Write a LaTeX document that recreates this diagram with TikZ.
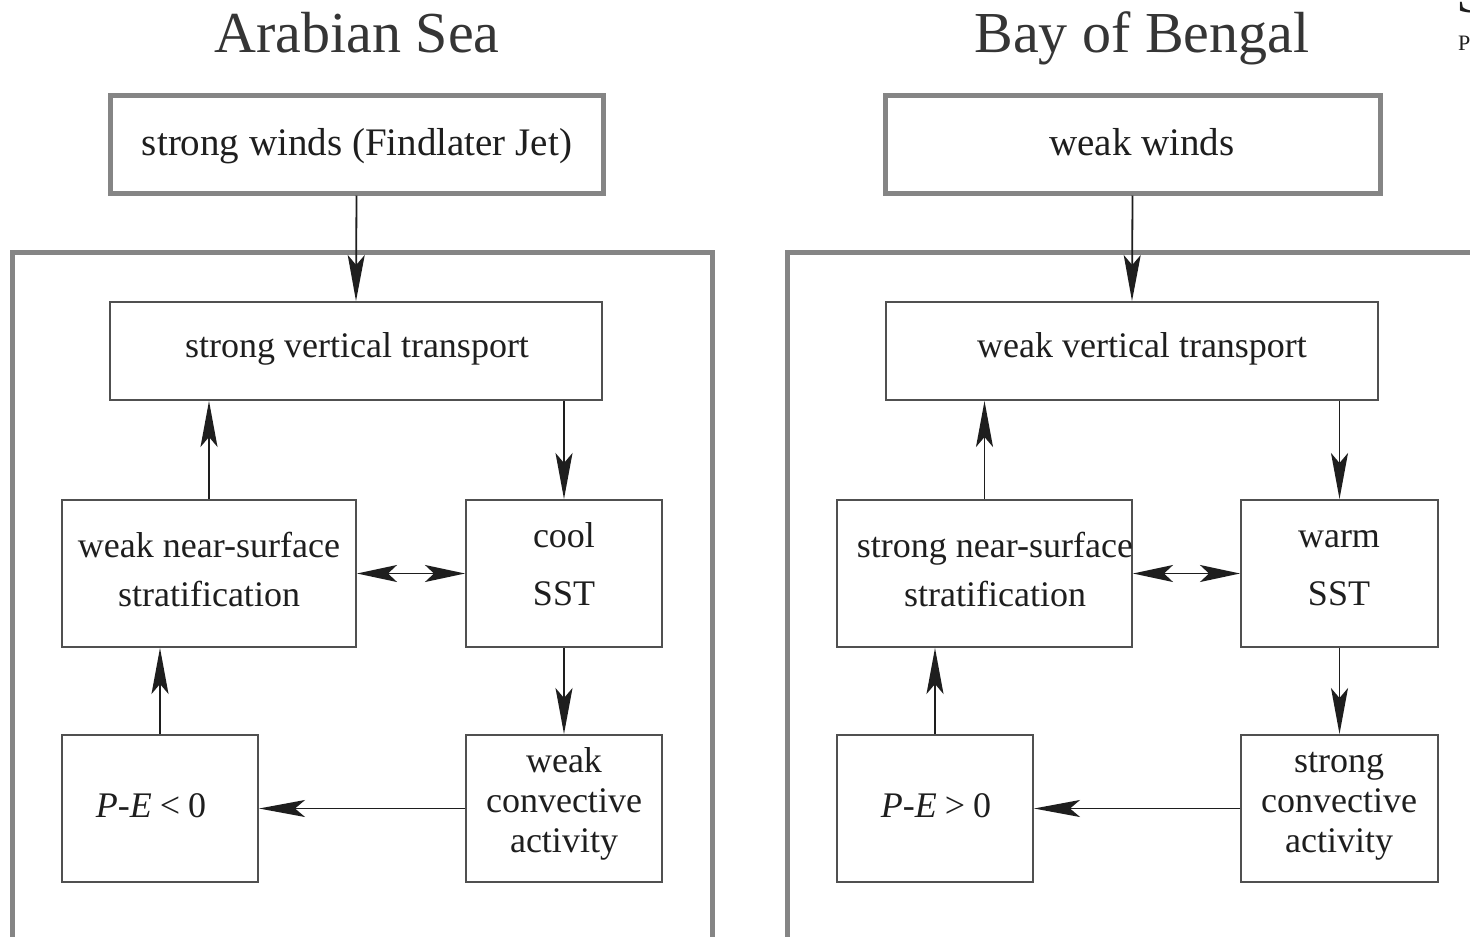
\documentclass[tikz,border=0pt]{standalone}
\usepackage{fontspec}
\setmainfont{Liberation Serif}
\usetikzlibrary{arrows.meta}
\definecolor{framegray}{HTML}{858585}
\definecolor{boxgray}{HTML}{505050}
\definecolor{ink}{HTML}{1E1E1E}
\tikzset{
  x=1pt, y=-1pt,
  topbox/.style={draw=framegray, line width=5pt, rectangle, inner sep=0pt},
  ibox/.style={draw=boxgray, line width=2pt, rectangle, inner sep=0pt},
  frame/.style={draw=framegray, line width=5pt},
  titletext/.style={anchor=base, inner sep=0pt, text=ink!90, font=\fontsize{58}{64}\selectfont},
  toptext/.style={anchor=base, inner sep=0pt, text=ink, font=\fontsize{39}{44}\selectfont},
  itext/.style={anchor=base, inner sep=0pt, text=ink, font=\fontsize{36}{40}\selectfont},
  arr/.style={draw=ink, line width=1.8pt, -{Stealth[length=46pt,width=17pt,inset=10pt]}},
  darr/.style={draw=ink, line width=1.8pt, {Stealth[length=40pt,width=17pt,inset=9pt]}-{Stealth[length=40pt,width=17pt,inset=9pt]}},
}
\newcommand{\bx}[6]{% name, style, x1, y1, x2, y2
  \node[#2, minimum width={#5-#3}, minimum height={#6-#4}] (#1) at ({(#3+#5)/2},{(#4+#6)/2}) {};}
\begin{document}
\begin{tikzpicture}
\useasboundingbox (0,0) rectangle (1470,937);
\clip (0,0) rectangle (1470,937);
\fill[white] (0,0) rectangle (1470,937);

% ---------------- Arabian Sea ----------------
\node[titletext] (tA) at (357,52) {Arabian Sea};
\bx{twA}{topbox}{110}{95}{603}{193}
\node[toptext] (twAt) at (357,155) {strong winds (Findlater Jet)};
\draw[frame] (12,950) -- (12,252) -- (712,252) -- (712,950);

\bx{vtA}{ibox}{110}{302}{602}{400}
\node[itext] (vtAt) at (357,357) {strong vertical transport};
\bx{stA}{ibox}{62}{500}{356}{647}
\node[itext] (stAt1) at (209,557) {weak near-surface};
\node[itext] (stAt2) at (209,606) {stratification};
\bx{sstA}{ibox}{466}{500}{662}{647}
\node[itext] (sstAt1) at (564,547) {cool};
\node[itext] (sstAt2) at (564,605) {SST};
\bx{peA}{ibox}{62}{735}{258}{882}
\node[itext] (peAt) at (151,817) {\textit{P}-\textit{E}\hspace{0.22em}<\hspace{0.22em}0};
\bx{cvA}{ibox}{466}{735}{662}{882}
\node[itext] (cvAt1) at (564,772) {weak};
\node[itext] (cvAt2) at (564,812) {convective};
\node[itext] (cvAt3) at (564,852) {activity};

\draw[arr] (twA.south) -- (vtA.north);
\draw[arr] (stA.north) -- (stA.north |- vtA.south);
\draw[arr] (vtA.south -| sstA.north) -- (sstA.north);
\draw[darr] (stA.east) -- (sstA.west);
\draw[arr] (sstA.south) -- (cvA.north);
\draw[arr] (cvA.west) -- (peA.east);
\draw[arr] (peA.north) -- (peA.north |- stA.south);

% ---------------- Bay of Bengal ----------------
\node[titletext] (tB) at (1142,52) {Bay of Bengal};
\bx{twB}{topbox}{885}{95}{1380}{193}
\node[toptext] (twBt) at (1142,155) {weak winds};
\draw[frame] (787,950) -- (787,252) -- (1490,252);

\bx{vtB}{ibox}{886}{302}{1378}{400}
\node[itext] (vtBt) at (1142,357) {weak vertical transport};
\bx{stB}{ibox}{837}{500}{1132}{647}
\node[itext] (stBt1) at (995,557) {strong near-surface};
\node[itext] (stBt2) at (995,606) {stratification};
\bx{sstB}{ibox}{1241}{500}{1438}{647}
\node[itext] (sstBt1) at (1339,547) {warm};
\node[itext] (sstBt2) at (1339,605) {SST};
\bx{peB}{ibox}{837}{735}{1033}{882}
\node[itext] (peBt) at (936,817) {\textit{P}-\textit{E}\hspace{0.22em}>\hspace{0.22em}0};
\bx{cvB}{ibox}{1241}{735}{1438}{882}
\node[itext] (cvBt1) at (1339,772) {strong};
\node[itext] (cvBt2) at (1339,812) {convective};
\node[itext] (cvBt3) at (1339,852) {activity};

\draw[arr] (twB.south) -- (vtB.north);
\draw[arr] (stB.north) -- (stB.north |- vtB.south);
\draw[arr] (vtB.south -| sstB.north) -- (sstB.north);
\draw[darr] (stB.east) -- (sstB.west);
\draw[arr] (sstB.south) -- (cvB.north);
\draw[arr] (cvB.west) -- (peB.east);
\draw[arr] (peB.north) -- (peB.north |- stB.south);

% cropped fragments at the right edge
\node[anchor=base west, inner sep=0pt, text=ink, font=\fontsize{58}{64}\selectfont] (fragS) at (1456,12) {S};
\node[anchor=base west, inner sep=0pt, text=ink, font=\fontsize{22}{26}\selectfont] (fragP) at (1458,50) {P};
\end{tikzpicture}
\end{document}
